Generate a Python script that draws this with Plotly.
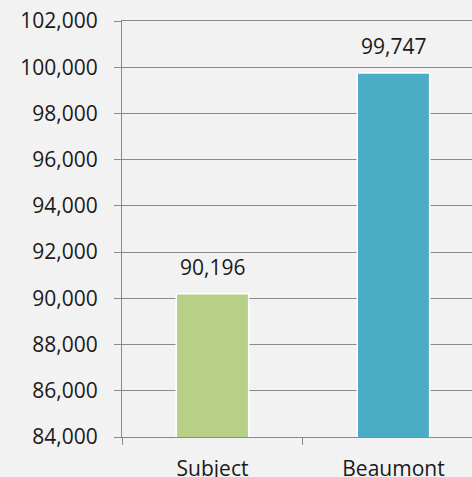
import plotly.graph_objects as go

categories = ["Subject", "Beaumont"]
values = [90196, 99747]
colors = ["#b7cf87", "#4bacc6"]
y_ticks = list(range(84000, 102001, 2000))
y_tick_labels = [f"{v:,}" for v in y_ticks]

font_family = "'Open Sans', sans-serif"
grid = "#8a8a8a"

fig = go.Figure()
fig.add_trace(go.Bar(
    x=categories, y=values, width=0.4,
    marker=dict(color=colors, line=dict(color="white", width=1.5)),
    hoverinfo="skip",
))
for c, v in zip(categories, values):
    fig.add_annotation(x=c, y=v, text=f"{v:,}", showarrow=False, yshift=27,
                       font=dict(size=21, color="#1a1a1a", family=font_family))

fig.update_layout(
    width=472, height=477,
    margin=dict(l=122, r=0, t=21, b=40, autoexpand=False),
    paper_bgcolor="#f2f2f2", plot_bgcolor="#f2f2f2",
    showlegend=False,
    font=dict(family=font_family, size=21, color="#1a1a1a"),
)
fig.update_yaxes(
    range=[84000, 102000], tickvals=y_ticks, ticktext=y_tick_labels,
    showgrid=True, gridcolor=grid, gridwidth=1,
    showline=True, linecolor=grid, linewidth=1,
    ticks="outside", ticklen=7, tickcolor=grid, zeroline=False,
    ticklabelstandoff=12, tickfont=dict(size=21), ticklabeloverflow="allow",
    automargin=False,
)
fig.update_xaxes(
    range=[-0.5, 1.434], showline=True, mirror=True, linecolor=grid, linewidth=1,
    ticks="outside", tickson="boundaries", ticklen=7, tickcolor=grid,
    ticklabelstandoff=13, tickfont=dict(size=21), showgrid=False,
    ticklabeloverflow="allow", automargin=False,
)
page_fix = (
    "var h=document.documentElement,b=document.body;"
    "h.style.margin='0';h.style.padding='0';h.style.overflow='hidden';h.style.height='477px';"
    "b.style.margin='0';b.style.padding='0';b.style.overflow='hidden';b.style.height='477px';"
)
fig.write_html("out.html", config={"displayModeBar": False}, post_script=page_fix)
